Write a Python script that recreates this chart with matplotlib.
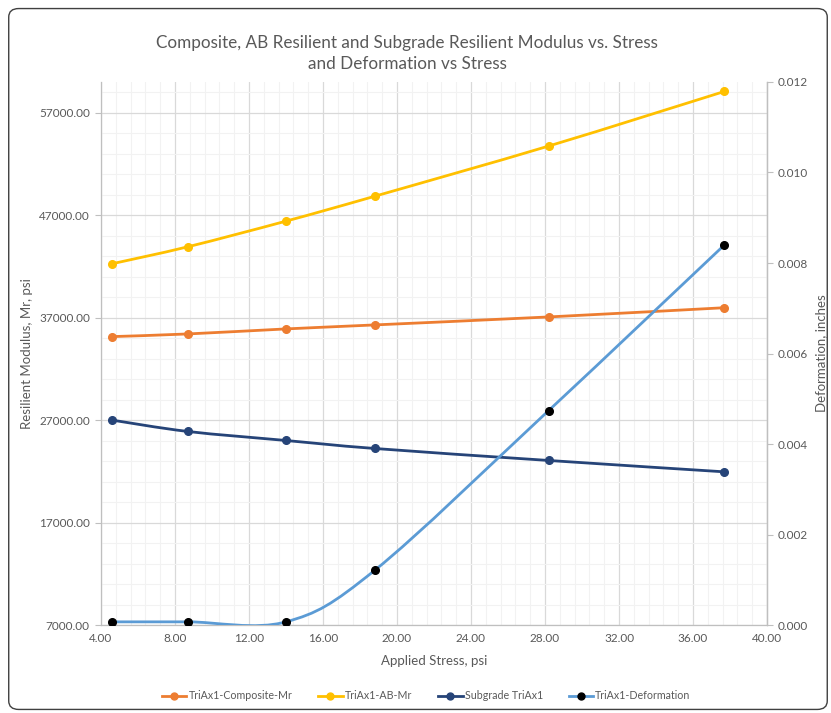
import matplotlib
matplotlib.use("Agg")
import matplotlib.pyplot as plt
from matplotlib.lines import Line2D
from matplotlib.patches import FancyBboxPatch, PathPatch
from matplotlib.path import Path
from matplotlib.ticker import MultipleLocator, FixedLocator
import numpy as np

plt.rcParams["font.family"] = ["Lato", "DejaVu Sans"]

# data
stress = [4.6, 8.7, 14.0, 18.8, 28.2, 37.7]
composite_mr = [35150, 35410, 35900, 36290, 37070, 37970]
ab_mr = [42260, 43920, 46420, 48850, 53750, 59080]
subgrade_mr = [27000, 25890, 25010, 24230, 23060, 21950]
deformation = [0.00007, 0.00007, 0.00007, 0.00121, 0.00474, 0.0084]

C_ORANGE = "#ED7D31"
C_YELLOW = "#FFC000"
C_NAVY = "#264478"
C_LBLUE = "#5B9BD5"
TXT = "#595959"


def smooth_path(x, y):
    """Excel-style smoothed line: cubic Bezier segments with Catmull-Rom tangents."""
    p = np.column_stack([x, y]).astype(float)
    n = len(p)
    verts = [p[0]]
    codes = [Path.MOVETO]
    for i in range(n - 1):
        p0 = p[i - 1] if i > 0 else p[i]
        p1, p2 = p[i], p[i + 1]
        p3 = p[i + 2] if i + 2 < n else p[i + 1]
        verts += [p1 + (p2 - p0) / 6, p2 - (p3 - p1) / 6, p2]
        codes += [Path.CURVE4] * 3
    return Path(verts, codes)


def draw_series(ax, x, y, line_color, marker_color, z=3):
    ax.add_patch(PathPatch(smooth_path(x, y), fill=False, edgecolor=line_color,
                           linewidth=2.0, capstyle="round", zorder=z))
    ax.plot(x, y, linestyle="none", marker="o", markersize=5.5,
            color=marker_color, zorder=z + 1)


fig = plt.figure(figsize=(8.31, 7.13), dpi=100)
ax = fig.add_axes([0.1215, 0.1234, 0.8015, 0.7616])

ax.set_xlim(4, 40)
ax.set_ylim(7000, 60000)
ax.xaxis.set_major_locator(MultipleLocator(4))
ax.xaxis.set_minor_locator(MultipleLocator(0.8))
ax.yaxis.set_major_locator(FixedLocator(np.arange(7000, 60001, 10000)))
ax.yaxis.set_minor_locator(FixedLocator(np.arange(7000, 60001, 2000)))
ax.xaxis.set_major_formatter(lambda v, p: f"{v:.2f}")
ax.yaxis.set_major_formatter(lambda v, p: f"{v:.2f}")
ax.grid(which="major", color="#D9D9D9", linewidth=0.9, zorder=0)
ax.grid(which="minor", color="#F2F2F2", linewidth=0.8, zorder=0)
ax.set_axisbelow(True)

ax.spines["top"].set_visible(False)
for s in ["left", "bottom", "right"]:
    ax.spines[s].set_color("#BFBFBF")
    ax.spines[s].set_linewidth(0.9)

ax.tick_params(axis="both", which="both", labelsize=8.5, colors=TXT, length=0)
ax.tick_params(axis="y", which="major", length=4, color="#BFBFBF", pad=4)
ax.tick_params(axis="x", which="major", pad=6)

draw_series(ax, stress, composite_mr, C_ORANGE, C_ORANGE)
draw_series(ax, stress, ab_mr, C_YELLOW, C_YELLOW)
draw_series(ax, stress, subgrade_mr, C_NAVY, C_NAVY)

ax.set_xlabel("Applied Stress, psi", fontsize=9.5, color=TXT, labelpad=8)
ax.set_ylabel("Resilient Modulus, Mr, psi", fontsize=9.5, color=TXT, labelpad=4)

ax2 = ax.twinx()
ax2.set_ylim(0, 0.012)
ax2.yaxis.set_major_locator(MultipleLocator(0.002))
ax2.yaxis.set_major_formatter(lambda v, p: f"{v:.3f}")
for s in ["top", "left", "bottom"]:
    ax2.spines[s].set_visible(False)
ax2.spines["right"].set_color("#BFBFBF")
ax2.spines["right"].set_linewidth(0.9)
ax2.tick_params(axis="y", labelsize=8.5, colors=TXT, length=4, pad=4)
ax2.tick_params(axis="y", color="#BFBFBF")
draw_series(ax2, stress, deformation, C_LBLUE, "black")
ax2.set_ylabel("Deformation, inches", fontsize=9.5, color=TXT, labelpad=5)

fig.text(0.49, 0.925, "Composite, AB Resilient and Subgrade Resilient Modulus vs. Stress\nand Deformation vs Stress",
         ha="center", va="center", fontsize=12.3, color=TXT, linespacing=1.35)

handles = [
    Line2D([], [], color=C_ORANGE, lw=2, marker="o", ms=5),
    Line2D([], [], color=C_YELLOW, lw=2, marker="o", ms=5),
    Line2D([], [], color=C_NAVY, lw=2, marker="o", ms=5),
    Line2D([], [], color=C_LBLUE, lw=2, marker="o", ms=5,
           markerfacecolor="black", markeredgecolor="black"),
]
labels = ["TriAx1-Composite-Mr", "TriAx1-AB-Mr", "Subgrade TriAx1", "TriAx1-Deformation"]
fig.legend(handles, labels, loc="center", bbox_to_anchor=(0.513, 0.024), ncol=4,
           frameon=False, fontsize=7.7, labelcolor=TXT, handlelength=2.3,
           handletextpad=0.2, columnspacing=2.4)

fig.patches.append(FancyBboxPatch((0.0105, 0.005), 0.985, 0.983,
                                  boxstyle="round,pad=0,rounding_size=0.012",
                                  transform=fig.transFigure, fill=False,
                                  edgecolor="#404040", linewidth=1.0))

fig.savefig("out.png", dpi=100)
